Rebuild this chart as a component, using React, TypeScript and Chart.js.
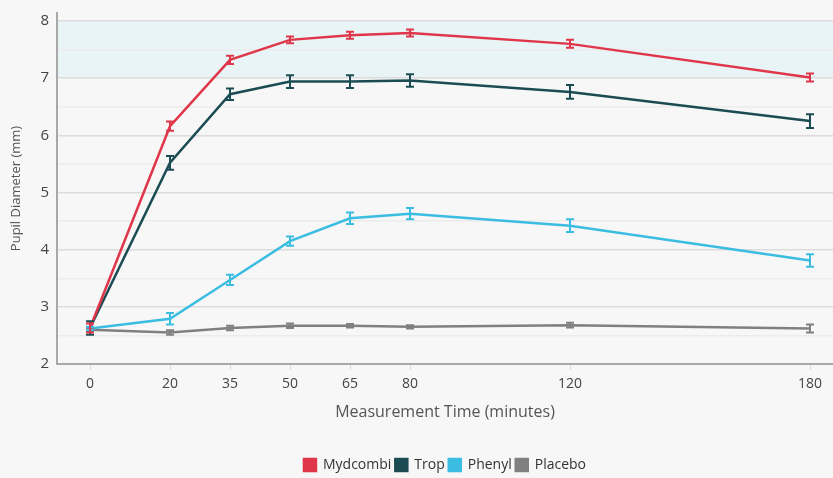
import React, { useEffect, useRef } from "react";
import { Chart, registerables } from "chart.js";

Chart.register(...registerables);

const times = [0, 20, 35, 50, 65, 80, 120, 180];
const xTickValues = [0, 20, 35, 50, 65, 80, 120, 180];
const yTickValues = [2, 2.5, 3, 3.5, 4, 4.5, 5, 5.5, 6, 6.5, 7, 7.5, 8];
const seriesNames = ["Mydcombi", "Trop", "Phenyl", "Placebo"];
const seriesColors = ["#e0364a", "#1b4c53", "#3bbde2", "#808080"];

const mydcombi = [2.63, 6.16, 7.32, 7.67, 7.75, 7.79, 7.6, 7.01];
const mydcombiErr = [0.08, 0.08, 0.07, 0.06, 0.06, 0.06, 0.07, 0.07];
const trop = [2.63, 5.52, 6.72, 6.94, 6.94, 6.96, 6.76, 6.25];
const tropErr = [0.12, 0.12, 0.1, 0.11, 0.11, 0.11, 0.12, 0.12];
const phenyl = [2.62, 2.79, 3.47, 4.15, 4.55, 4.63, 4.42, 3.81];
const phenylErr = [0.03, 0.1, 0.09, 0.08, 0.1, 0.1, 0.11, 0.11];
const placebo = [2.6, 2.55, 2.63, 2.67, 2.67, 2.65, 2.68, 2.62];
const placeboErr = [0.03, 0.04, 0.04, 0.04, 0.03, 0.03, 0.04, 0.07];

const bandLow = 7;
const bandHigh = 8;

const seriesValues = [mydcombi, trop, phenyl, placebo];
const seriesErrors = [mydcombiErr, tropErr, phenylErr, placeboErr];

const FONT = "'Open Sans', sans-serif";

const bgPlugin = {
  id: "bgBand",
  beforeDraw(chart: any) {
    const { ctx, chartArea, scales } = chart;
    ctx.save();
    ctx.fillStyle = "#f7f7f7";
    ctx.fillRect(0, 0, chart.width, chart.height);
    const y = scales.y;
    const top = y.getPixelForValue(bandHigh);
    const bot = y.getPixelForValue(bandLow);
    ctx.fillStyle = "#e9f4f7";
    ctx.fillRect(chartArea.left, top, chartArea.right - chartArea.left, bot - top);
    ctx.restore();
  },
};

const errPlugin = {
  id: "errBars",
  afterDatasetsDraw(chart: any) {
    const { ctx, scales } = chart;
    const xs = scales.x;
    const ys = scales.y;
    ctx.save();
    for (let d = seriesValues.length - 1; d >= 0; d--) {
      const vals = seriesValues[d];
      const errs = seriesErrors[d];
      ctx.strokeStyle = seriesColors[d];
      ctx.lineWidth = 2;
      for (let i = 0; i < times.length; i++) {
        const px = xs.getPixelForValue(times[i]);
        const y1 = ys.getPixelForValue(vals[i] + errs[i]);
        const y2 = ys.getPixelForValue(vals[i] - errs[i]);
        ctx.beginPath();
        ctx.moveTo(px, y1);
        ctx.lineTo(px, y2);
        ctx.moveTo(px - 4, y1);
        ctx.lineTo(px + 4, y1);
        ctx.moveTo(px - 4, y2);
        ctx.lineTo(px + 4, y2);
        ctx.stroke();
      }
    }
    ctx.restore();
  },
};

export default function App() {
  const ref = useRef<HTMLCanvasElement>(null);
  useEffect(() => {
    if (!ref.current) return;
    const chart = new Chart(ref.current, {
      type: "line",
      data: {
        datasets: seriesNames.map((name, d) => ({
          label: name,
          data: times.map((t, i) => ({ x: t, y: seriesValues[d][i] })),
          borderColor: seriesColors[d],
          backgroundColor: seriesColors[d],
          borderWidth: 2.5,
          pointRadius: 0,
          tension: 0,
        })),
      },
      options: {
        animation: false,
        responsive: false,
        layout: { padding: { top: 13, right: 0, left: 0, bottom: -4 } },
        plugins: {
          legend: {
            position: "bottom",
            fullSize: false,
            labels: {
              boxWidth: 12,
              boxHeight: 12,
              padding: 4,
              color: "#333",
              font: { family: FONT, size: 14 },
            },
          },
          tooltip: { enabled: false },
        },
        scales: {
          x: {
            type: "linear",
            min: -8.25,
            max: 185.75,
            afterBuildTicks(scale: any) {
              scale.ticks = xTickValues.map((v) => ({ value: v }));
            },
            afterFit(scale: any) {
              scale.height = 90;
              scale.paddingLeft = 0;
              scale.paddingRight = 0;
            },
            ticks: {
              color: "#444",
              font: { family: FONT, size: 14 },
              padding: 6,
              callback: (v: any) => String(v),
            },
            grid: { drawOnChartArea: false, tickLength: 6, color: "#d8d8d8" },
            border: { color: "#a8a8a8", width: 2 },
            title: {
              display: true,
              text: "Measurement Time (minutes)",
              color: "#555",
              font: { family: FONT, size: 16 },
              padding: { top: 0, bottom: 32 },
            },
          },
          y: {
            type: "linear",
            min: 2,
            max: 8.14,
            afterBuildTicks(scale: any) {
              scale.ticks = yTickValues.map((v) => ({ value: v }));
            },
            afterFit(scale: any) {
              scale.width = 57;
              scale.paddingTop = 0;
              scale.paddingBottom = 0;
            },
            ticks: {
              color: "#444",
              font: { family: FONT, size: 15 },
              padding: 8,
              callback: (v: any) => (Number.isInteger(v) ? String(v) : ""),
            },
            grid: {
              color: (c: any) => (Number.isInteger(c.tick?.value) ? "#dcdcdc" : "#ececec"),
              lineWidth: 1.5,
              drawTicks: false,
            },
            border: { color: "#a8a8a8", width: 2 },
            title: {
              display: true,
              text: "Pupil Diameter (mm)",
              color: "#555",
              font: { family: FONT, size: 13 },
              padding: { top: 8, bottom: 4 },
            },
          },
        },
      },
      plugins: [bgPlugin, errPlugin],
    });
    return () => chart.destroy();
  }, []);
  return (
    <div style={{ position: "fixed", left: 0, top: 0, width: 833, height: 478, background: "#f7f7f7" }}>
      <canvas ref={ref} width={833} height={478} style={{ display: "block" }} />
    </div>
  );
}
